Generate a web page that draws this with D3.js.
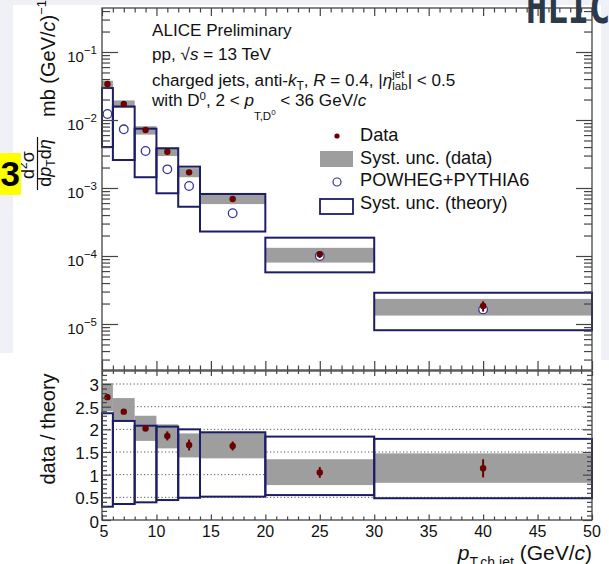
<!DOCTYPE html>
<html>
<head>
<meta charset="utf-8">
<script src="https://cdn.jsdelivr.net/npm/d3@7"></script>
<style>
  body { margin: 0; background: #fff; }
  svg { display: block; font-family: "Liberation Sans", Arial, Helvetica, sans-serif; }
  svg text { white-space: pre; }
  .tick line { stroke: #444; stroke-width: 1.2; }
</style>
</head>
<body>
<svg id="chart" width="609" height="564"></svg>
<script>
// bins in p_T,ch jet (GeV/c)
const binLo  = [5, 6, 8, 10, 12, 14, 20, 30];
const binHi  = [6, 8, 10, 12, 14, 20, 30, 50];
const binMid = [5.5, 7, 9, 11, 13, 17, 25, 40];

// upper panel: cross section (mb (GeV/c)^-1)
const dataVal     = [0.0339, 0.0172, 0.00713, 0.00342, 0.0017, 0.000689, 1.06e-4, 1.84e-5];
const dataStat    = [0.001, 0.0005, 0.00025, 0.00017, 0.00012, 0.00004, 1.2e-5, 3.2e-6];
const dataSystHi  = [0.0378, 0.0194, 0.0081, 0.0039, 0.00196, 0.00082, 1.32e-4, 2.34e-5];
const dataSystLo  = [0.0300, 0.0151, 0.0061, 0.00295, 0.00144, 0.00058, 0.80e-4, 1.33e-5];
const theoryVal   = [0.01225, 0.0073, 0.0035, 0.00188, 0.00107, 0.000425, 1.0e-4, 1.64e-5];
const theoryHi    = [0.0295, 0.0158, 0.00745, 0.00384, 0.00206, 0.000817, 1.86e-4, 2.88e-5];
const theoryLo    = [0.0040, 0.00258, 0.00144, 0.000836, 0.00053, 0.000229, 5.75e-5, 8.1e-6];

// lower panel: data / theory
const ratioVal    = [2.71, 2.39, 2.02, 1.855, 1.655, 1.633, 1.05, 1.14];
const ratioStat   = [0.06, 0.05, 0.05, 0.1, 0.12, 0.1, 0.12, 0.2];
const ratioSystHi = [3.02, 2.69, 2.30, 2.11, 1.91, 1.93, 1.34, 1.47];
const ratioSystLo = [2.40, 2.19, 1.745, 1.58, 1.38, 1.36, 0.77, 0.82];
const ratioThHi   = [2.355, 2.185, 2.08, 2.06, 2.0, 1.935, 1.84, 1.79];
const ratioThLo   = [0.294, 0.353, 0.39, 0.44, 0.49, 0.515, 0.55, 0.48];

// ticks
const xMajor = [5, 10, 15, 20, 25, 30, 35, 40, 45, 50];
const logMajor = [1e-5, 1e-4, 1e-3, 1e-2, 1e-1];
const logLabels = ['−5', '−4', '−3', '−2', '−1'];
const ratioMajor = [0, 0.5, 1, 1.5, 2, 2.5, 3];
const ratioLabels = ['0', '0.5', '1', '1.5', '2', '2.5', '3'];
const ratioGrid = [0.5, 1, 1.5, 2, 2.5, 3];

const legendItems = ['Data', 'Syst. unc. (data)', 'POWHEG+PYTHIA6', 'Syst. unc. (theory)'];

const svg = d3.select('#chart');
const L = 102, R = 592, T1 = 8, B1 = 370, T2 = 371, B2 = 520;
const axisCol = '#444', boxCol = '#1c1c6b', dataCol = '#6b0000', greyCol = '#9e9e9e';

const x = d3.scaleLinear().domain([5, 50]).range([L, R]);
// 10^-1 at y=52, 68 px per decade
const yTop = d3.scaleLog().domain([Math.pow(10, -5 - (B1 - 324) / 68), Math.pow(10, -1 + (52 - T1) / 68)]).range([B1, T1]);
const yBot = d3.scaleLinear().domain([0, (B2 - T2) / 45.33]).range([B2, T2]);

// page background bits from the slide
svg.append('rect').attr('width', 609).attr('height', 564).attr('fill', '#fff');
svg.append('rect').attr('x', 0).attr('y', 0).attr('width', 609).attr('height', 5).attr('fill', '#f0f1f7');
svg.append('rect').attr('x', 0).attr('y', 0).attr('width', 13).attr('height', 353).attr('fill', '#f0f1f7');
svg.append('rect').attr('x', 601).attr('y', 0).attr('width', 8).attr('height', 360).attr('fill', '#f0f1f7');

// minor tick values
const xMinor = d3.range(5, 51, 1).filter(v => v % 5 !== 0);
const logMinor = [];
[-6, -5, -4, -3, -2, -1].forEach(e => {
    for (let m = 2; m <= 9; m++) {
        const v = m * Math.pow(10, e);
        if (v >= yTop.domain()[0] && v <= yTop.domain()[1]) logMinor.push(v);
    }
});
const ratioMinor = d3.range(0, 33, 1).map(v => v / 10).filter(v => Math.round(v * 10) % 5 !== 0);

function ticks(gen, values, size, tx, ty) {
    const g = svg.append('g')
        .attr('transform', `translate(${tx},${ty})`)
        .call(gen.tickValues(values).tickSize(size).tickSizeOuter(0).tickFormat(''));
    g.select('.domain').remove();
}

// ---------- upper panel ----------
const up = svg.append('g');
// data syst boxes
up.selectAll('rect.syst').data(binLo).join('rect')
    .attr('x', (d, i) => x(binLo[i]))
    .attr('width', (d, i) => x(binHi[i]) - x(binLo[i]))
    .attr('y', (d, i) => yTop(dataSystHi[i]))
    .attr('height', (d, i) => yTop(dataSystLo[i]) - yTop(dataSystHi[i]))
    .attr('fill', greyCol);
// theory boxes
up.selectAll('rect.th').data(binLo).join('rect')
    .attr('x', (d, i) => x(binLo[i]))
    .attr('width', (d, i) => x(binHi[i]) - x(binLo[i]))
    .attr('y', (d, i) => yTop(theoryHi[i]))
    .attr('height', (d, i) => yTop(theoryLo[i]) - yTop(theoryHi[i]))
    .attr('fill', 'none').attr('stroke', boxCol).attr('stroke-width', 2);
// theory points
up.selectAll('circle.th').data(binMid).join('circle')
    .attr('cx', d => x(d)).attr('cy', (d, i) => yTop(theoryVal[i])).attr('r', 4.3)
    .attr('fill', '#fff').attr('stroke', '#34349a').attr('stroke-width', 1.3);
// data stat + points
up.selectAll('line.stat').data(binMid).join('line')
    .attr('x1', d => x(d)).attr('x2', d => x(d))
    .attr('y1', (d, i) => yTop(dataVal[i] + dataStat[i]))
    .attr('y2', (d, i) => yTop(dataVal[i] - dataStat[i]))
    .attr('stroke', dataCol).attr('stroke-width', 2);
up.selectAll('circle.data').data(binMid).join('circle')
    .attr('cx', d => x(d)).attr('cy', (d, i) => yTop(dataVal[i])).attr('r', 3.2)
    .attr('fill', dataCol);

// upper axes ticks
ticks(d3.axisLeft(yTop), logMajor, -16, L, 0);
ticks(d3.axisLeft(yTop), logMinor, -8, L, 0);
ticks(d3.axisRight(yTop), logMajor, -16, R, 0);
ticks(d3.axisRight(yTop), logMinor, -8, R, 0);
ticks(d3.axisTop(x), xMajor, -8, 0, T1);
ticks(d3.axisTop(x), xMinor, -4.5, 0, T1);
ticks(d3.axisBottom(x), xMajor, -9, 0, B1);
ticks(d3.axisBottom(x), xMinor, -4.5, 0, B1);
svg.append('rect').attr('x', L).attr('y', T1).attr('width', R - L).attr('height', B1 - T1)
    .attr('fill', 'none').attr('stroke', axisCol).attr('stroke-width', 1.3);

// log labels
svg.selectAll('text.ylog').data(logMajor).join('text')
    .attr('x', 97).attr('y', d => yTop(d) + 9.5)
    .attr('text-anchor', 'end').style('font-size', '15px').attr('fill', '#111')
    .each(function (d, i) {
        const t = d3.select(this);
        t.append('tspan').text('10');
        t.append('tspan').attr('dy', -8).style('font-size', '11.5px').text(logLabels[i]);
    });

// ---------- lower panel ----------
const lo = svg.append('g');
lo.selectAll('line.grid').data(ratioGrid).join('line')
    .attr('x1', L).attr('x2', R)
    .attr('y1', d => yBot(d)).attr('y2', d => yBot(d))
    .attr('stroke', '#555').attr('stroke-width', 1).attr('stroke-dasharray', '1.2,2.3');
lo.selectAll('rect.syst').data(binLo).join('rect')
    .attr('x', (d, i) => x(binLo[i]))
    .attr('width', (d, i) => x(binHi[i]) - x(binLo[i]))
    .attr('y', (d, i) => yBot(ratioSystHi[i]))
    .attr('height', (d, i) => yBot(ratioSystLo[i]) - yBot(ratioSystHi[i]))
    .attr('fill', greyCol);
lo.selectAll('rect.th').data(binLo).join('rect')
    .attr('x', (d, i) => x(binLo[i]))
    .attr('width', (d, i) => x(binHi[i]) - x(binLo[i]))
    .attr('y', (d, i) => yBot(ratioThHi[i]))
    .attr('height', (d, i) => yBot(ratioThLo[i]) - yBot(ratioThHi[i]))
    .attr('fill', 'none').attr('stroke', boxCol).attr('stroke-width', 2);
lo.selectAll('line.stat').data(binMid).join('line')
    .attr('x1', d => x(d)).attr('x2', d => x(d))
    .attr('y1', (d, i) => yBot(ratioVal[i] + ratioStat[i]))
    .attr('y2', (d, i) => yBot(ratioVal[i] - ratioStat[i]))
    .attr('stroke', dataCol).attr('stroke-width', 2);
lo.selectAll('circle.data').data(binMid).join('circle')
    .attr('cx', d => x(d)).attr('cy', (d, i) => yBot(ratioVal[i])).attr('r', 3.2)
    .attr('fill', dataCol);

ticks(d3.axisLeft(yBot), ratioMajor, -9, L, 0);
ticks(d3.axisLeft(yBot), ratioMinor, -5, L, 0);
ticks(d3.axisRight(yBot), ratioMajor, -9, R, 0);
ticks(d3.axisRight(yBot), ratioMinor, -5, R, 0);
ticks(d3.axisTop(x), xMajor, -5, 0, T2);
ticks(d3.axisTop(x), xMinor, -3, 0, T2);
ticks(d3.axisBottom(x), xMajor, -5.5, 0, B2);
ticks(d3.axisBottom(x), xMinor, -3.5, 0, B2);
svg.append('rect').attr('x', L).attr('y', T2).attr('width', R - L).attr('height', B2 - T2)
    .attr('fill', 'none').attr('stroke', axisCol).attr('stroke-width', 1.3);

svg.selectAll('text.yr').data(ratioMajor).join('text')
    .attr('x', 99).attr('y', d => yBot(d) + (d === 0 ? 8 : 7))
    .attr('text-anchor', 'end').style('font-size', '17px').attr('fill', '#111')
    .text((d, i) => ratioLabels[i]);
svg.selectAll('text.xl').data(xMajor).join('text')
    .attr('x', d => x(d) + (d === 5 ? 2 : 0)).attr('y', 537)
    .attr('text-anchor', 'middle').style('font-size', '16px').attr('fill', '#111')
    .text(d => d);

// ---------- titles ----------
// upper y title (rotated)
const yt = svg.append('g').attr('transform', 'translate(55,195) rotate(-90)').attr('fill', '#111');
const num = yt.append('text').attr('x', 30).attr('y', -21).attr('text-anchor', 'middle').style('font-size', '18px');
num.append('tspan').text('d');
num.append('tspan').attr('dy', -7).style('font-size', '12px').text('2');
num.append('tspan').attr('dy', 7).text('σ');
yt.append('line').attr('x1', 5).attr('x2', 58).attr('y1', -17.5).attr('y2', -17.5)
    .attr('stroke', '#111').attr('stroke-width', 1.2);
const den = yt.append('text').attr('x', 32).attr('y', -4).attr('text-anchor', 'middle').style('font-size', '18px');
den.append('tspan').text('d');
den.append('tspan').style('font-style', 'italic').text('p');
den.append('tspan').attr('dy', 4).style('font-size', '12px').text('T');
den.append('tspan').attr('dy', -4).text('d');
den.append('tspan').style('font-style', 'italic').text('η');
const yu = yt.append('text').attr('x', 78).attr('y', 0).style('font-size', '20px');
yu.append('tspan').text('mb (GeV/');
yu.append('tspan').style('font-style', 'italic').text('c');
yu.append('tspan').text(')');
yu.append('tspan').attr('dy', -9).style('font-size', '13px').text('−1');

// lower y title
svg.append('text').attr('transform', 'translate(55,429) rotate(-90)')
    .attr('text-anchor', 'middle').style('font-size', '20px').attr('fill', '#111')
    .text('data / theory');

// x title
const xt = svg.append('text').attr('x', 592).attr('y', 560).attr('text-anchor', 'end')
    .style('font-size', '21px').attr('fill', '#111');
xt.append('tspan').style('font-style', 'italic').text('p');
xt.append('tspan').attr('dy', 7).style('font-size', '14px').text('T,ch jet');
xt.append('tspan').attr('dy', -7).text(' (GeV/');
xt.append('tspan').style('font-style', 'italic').text('c');
xt.append('tspan').text(')');

// ---------- labels block ----------
function rich(x0, y0, parts, size) {
    let cx = x0;
    parts.forEach(p => {
        const t = svg.append('text').attr('x', cx).attr('y', y0 + (p.dy || 0))
            .style('font-size', (p.s || size) + 'px').attr('fill', '#111')
            .style('font-style', p.i ? 'italic' : 'normal').text(p.t);
        if (!p.hold) cx += t.node().getComputedTextLength();
    });
}
const fs = 17.1;
rich(152, 36, [{ t: 'ALICE Preliminary' }], fs);
rich(152, 60, [{ t: 'pp, √' }, { t: 's', i: true }, { t: ' = 13 TeV' }], fs);
rich(152, 86, [
    { t: 'charged jets, anti-' }, { t: 'k', i: true }, { t: 'T', s: 12, dy: 4 },
    { t: ', ' }, { t: 'R', i: true }, { t: ' = 0.4, |' }, { t: 'η', i: true },
    { t: 'jet', s: 11.5, dy: -8, hold: true }, { t: 'lab', s: 11.5, dy: 4 }, { t: '| < 0.5' }
], fs);
rich(152, 106, [
    { t: 'with D' }, { t: '0', s: 11.5, dy: -6 }, { t: ', 2 < ' }, { t: 'p', i: true },
    { t: 'T,D', s: 11.5, dy: 14 }, { t: '0', s: 8, dy: 9 }, { t: ' < 36 GeV/' }, { t: 'c', i: true }
], fs);

// legend
const lg = svg.append('g');
lg.append('circle').attr('cx', 337).attr('cy', 136).attr('r', 2.6).attr('fill', dataCol);
lg.append('rect').attr('x', 320).attr('y', 151).attr('width', 33).attr('height', 16).attr('fill', greyCol);
lg.append('circle').attr('cx', 337).attr('cy', 182).attr('r', 4).attr('fill', '#fff')
    .attr('stroke', '#34349a').attr('stroke-width', 1.2);
lg.append('rect').attr('x', 320).attr('y', 199).attr('width', 33).attr('height', 15)
    .attr('fill', 'none').attr('stroke', boxCol).attr('stroke-width', 1.8);
lg.selectAll('text').data(legendItems).join('text')
    .attr('x', 360).attr('y', (d, i) => 141 + i * 22.7)
    .style('font-size', '18.2px').attr('fill', '#111').text(d => d);

// slide fragments around the figure
svg.append('text').attr('transform', 'translate(526,22.5) scale(1,1.2)')
    .style('font-family', '"DejaVu Sans Mono", monospace').style('font-weight', 'bold')
    .style('font-size', '35px').attr('fill', '#2b3a4b').text('HLIC');
svg.append('rect').attr('x', 0).attr('y', 153).attr('width', 21).attr('height', 42).attr('fill', '#ffff00');
svg.append('text').attr('x', 20).attr('y', 186).attr('text-anchor', 'end')
    .style('font-weight', 'bold').style('font-size', '35px').attr('fill', '#000').text('33');
</script>
</body>
</html>
